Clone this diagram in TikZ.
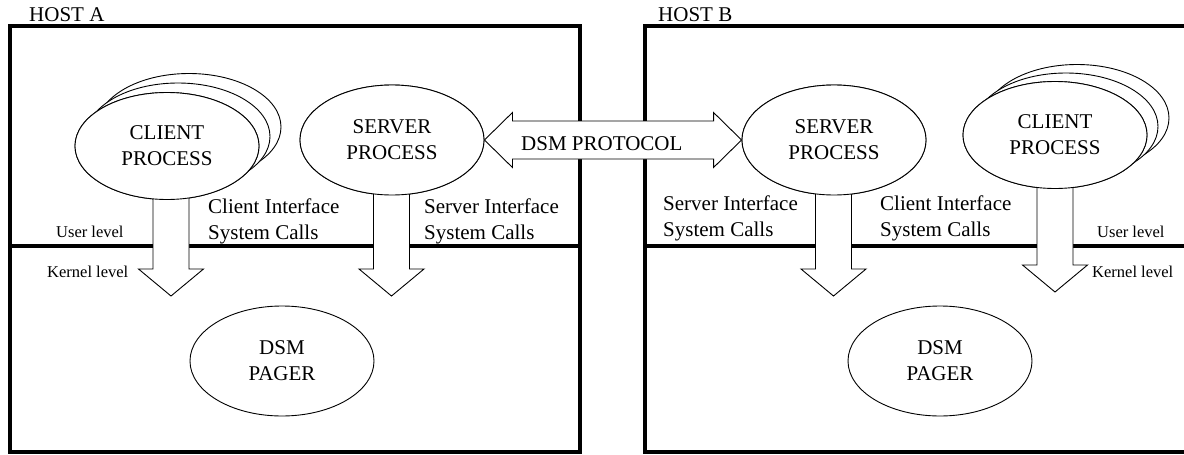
\documentclass[tikz,border=0pt]{standalone}
\usepackage{fontspec}
\setmainfont{Liberation Serif}
\usetikzlibrary{shapes.geometric,calc}
\newcommand\lblfont{\fontsize{21}{26}\selectfont}
\newcommand\lvlfont{\fontsize{16.5}{20}\selectfont}
% block arrow pointing down from an ellipse node (#1) to a tip coordinate (#2)
\newcommand\blockdown[2]{%
  \path (#1.center -| #2) coordinate (#2top);
  \draw[blockarrow] ($(#2top)+(-18,0)$) -- ($(#2)+(-18,-27)$) -- ($(#2)+(-32.5,-27)$)
    -- (#2) -- ($(#2)+(32.5,-27)$) -- ($(#2)+(18,-27)$) -- ($(#2top)+(18,0)$);}
\begin{document}
\begin{tikzpicture}[x=1pt,y=-1pt,
  hostbox/.style={line width=4.5pt},
  proc/.style={ellipse,draw,fill=white,line width=0.9pt,minimum width=184pt,
    minimum height=110pt,inner sep=0pt,align=center,font=\lblfont,
    execute at begin node={\rule{0pt}{19.5pt}}},
  stackproc/.style={proc,minimum height=107pt},
  blockarrow/.style={draw,fill=white,line width=0.9pt,line join=miter},
  lbl/.style={font=\lblfont,inner sep=0pt,align=left},
  lvl/.style={font=\lvlfont,inner sep=0pt,anchor=base west}]
\useasboundingbox (0,0) rectangle (1184,455);
\clip (0,0) rectangle (1184,455);

% host frames with the user/kernel boundary
\draw[hostbox] (10,26) rectangle (580,452);
\draw[hostbox] (10,246) -- (580,246);
\draw[hostbox] (645,26) rectangle (1200,452);
\draw[hostbox] (645,246) -- (1200,246);
\node[lbl,anchor=base west] (hostA) at (29,21) {HOST A};
\node[lbl,anchor=base west] (hostB) at (658,21) {HOST B};

% tips of the system-call arrows
\coordinate (tipCA) at (171,296);
\coordinate (tipSA) at (391.5,296);
\coordinate (tipSB) at (833.5,296);
\coordinate (tipCB) at (1055,292);

% server processes
\node[proc] (sA) at (392,140) {SERVER\\PROCESS};
\node[proc] (sB) at (834,140) {SERVER\\PROCESS};

% DSM protocol double block arrow
\draw[blockarrow] (sA.east) -- ($(sA.east)+(28,-27.5)$) -- ($(sA.east)+(28,-19)$)
  -- ($(sB.west)+(-28,-19)$) -- ($(sB.west)+(-28,-27.5)$) -- (sB.west)
  -- ($(sB.west)+(-28,27.5)$) -- ($(sB.west)+(-28,19)$)
  -- ($(sA.east)+(28,19)$) -- ($(sA.east)+(28,27.5)$) -- cycle;
\node[lbl,anchor=base west] (proto) at (521,150) {DSM PROTOCOL};

% client process stacks (hosts A and B)
\node[stackproc] (cA3) at (189,127) {};
\node[stackproc] (cA2) at (178,136.5) {};
\node[stackproc] (cA) at (167,146) {};
\node[stackproc] (cB3) at (1077,118) {};
\node[stackproc] (cB2) at (1066,126.5) {};
\node[stackproc] (cB) at (1055,135) {};

% system-call arrows into the kernel
\blockdown{cA}{tipCA}
\blockdown{sA}{tipSA}
\blockdown{sB}{tipSB}
\blockdown{cB}{tipCB}

% front ellipses drawn over the arrow shafts
\node[proc] at (sA) {SERVER\\PROCESS};
\node[proc] at (sB) {SERVER\\PROCESS};
\node[stackproc] at (cA) {CLIENT\\PROCESS};
\node[stackproc] at (cB) {CLIENT\\PROCESS};

% pagers in the kernel
\node[proc] (pA) at (282,361) {DSM\\PAGER};
\node[proc] (pB) at (940,361) {DSM\\PAGER};

% interface labels
\node[lbl,anchor=north west] (ciA) at (208,199) {Client Interface\\System Calls};
\node[lbl,anchor=north west] (siA) at (424,199) {Server Interface\\System Calls};
\node[lbl,anchor=north west] (siB) at (663,196) {Server Interface\\System Calls};
\node[lbl,anchor=north west] (ciB) at (880,196) {Client Interface\\System Calls};

% level labels
\node[lvl] (uA) at (56,237) {User level};
\node[lvl] (kA) at (47,277) {Kernel level};
\node[lvl] (uB) at (1097,237) {User level};
\node[lvl] (kB) at (1092,277) {Kernel level};
\end{tikzpicture}
\end{document}
